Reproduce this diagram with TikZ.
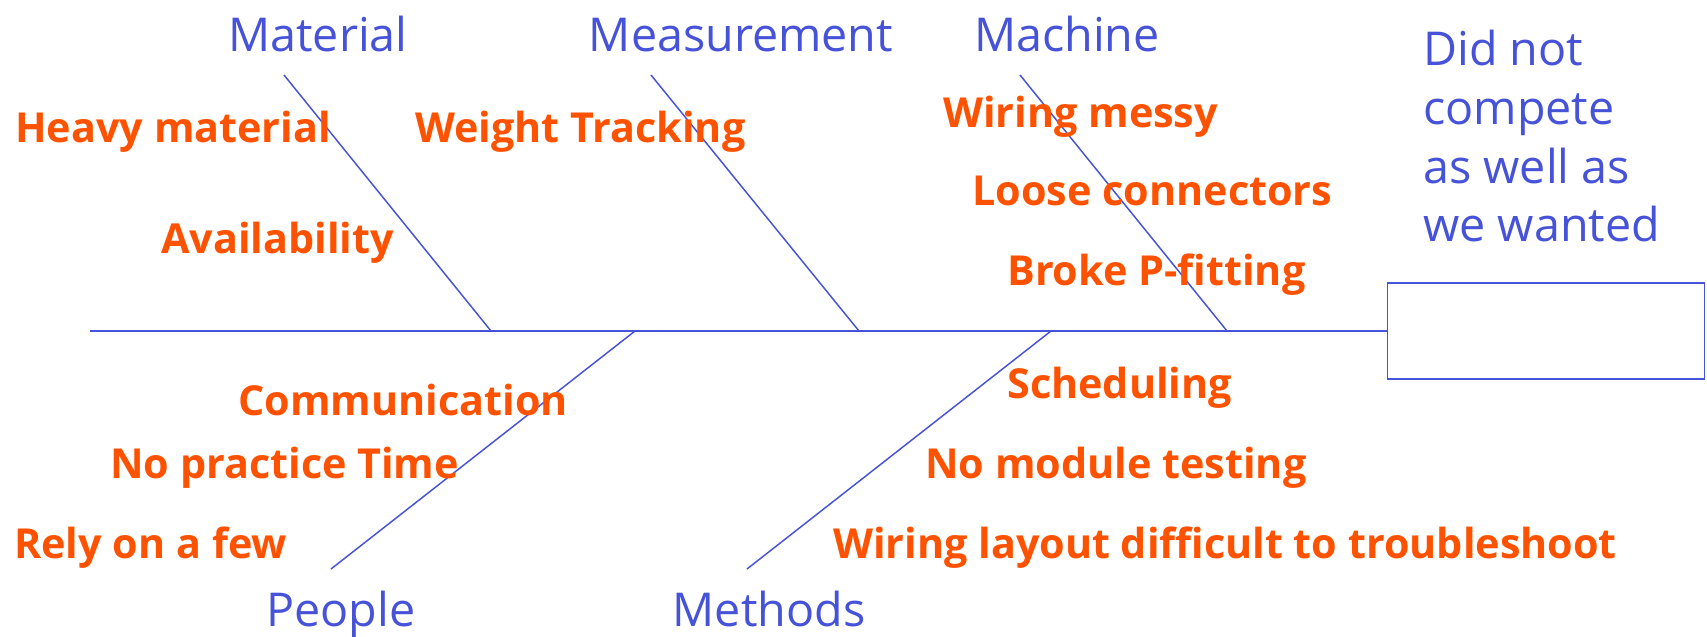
\documentclass[tikz,border=0pt]{standalone}
\usepackage{fontspec}
\setmainfont{Open Sans}
\definecolor{fbblue}{RGB}{70,82,215}
\definecolor{fborange}{RGB}{255,82,0}
\begin{document}
\begin{tikzpicture}[x=0.75pt,y=-0.75pt,
  bone/.style={draw=fbblue,line width=1.1pt},
  cat/.style={text=fbblue,font=\fontsize{35}{43.7}\selectfont,inner sep=0pt,anchor=base},
  cause/.style={text=fborange,font=\bfseries\fontsize{31}{38}\selectfont,inner sep=0pt,anchor=base west},
]
\useasboundingbox (0,0) rectangle (1707,636);
% effect box
\node[draw=fbblue,line width=1.1pt,minimum width=238pt,minimum height=72pt,inner sep=0pt] (effect) at (1546,331) {};
\node[text=fbblue,font=\fontsize{35}{44}\selectfont,inner sep=0pt,anchor=north west,align=left] (efftext) at (1423,30) {Did not\\compete\\as well as\\we wanted};
% spine
\coordinate (tail) at (90,331);
\draw[bone] (tail) -- (effect.west);
% bone coordinates
\coordinate (matT) at (284,75);   \coordinate (matB) at (491,331);
\coordinate (meaT) at (651,75);   \coordinate (meaB) at (859,331);
\coordinate (macT) at (1020,75);  \coordinate (macB) at (1227,331);
\coordinate (peoB) at (331,569);  \coordinate (peoT) at (635,331);
\coordinate (metB) at (747,569);  \coordinate (metT) at (1051,331);
\draw[bone] (matT) -- (matB);
\draw[bone] (meaT) -- (meaB);
\draw[bone] (macT) -- (macB);
\draw[bone] (peoB) -- (peoT);
\draw[bone] (metB) -- (metT);
% categories
\node[cat] (material) at (318,51) {Material};
\node[cat] (measurement) at (741,51) {Measurement};
\node[cat] (machine) at (1067,51) {Machine};
\node[cat] (people) at (341,626) {People};
\node[cat] (methods) at (769,626) {Methods};
% causes
\node[cause] (c1) at (15,142) {Heavy material};
\node[cause] (c2) at (161,253) {Availability};
\node[cause] (c3) at (415,142) {Weight Tracking};
\node[cause] (c4) at (943,127) {Wiring messy};
\node[cause] (c5) at (972,205) {Loose connectors};
\node[cause] (c6) at (1007,285) {Broke P-fitting};
\node[cause] (c7) at (238,415) {Communication};
\node[cause] (c8) at (110,478) {No practice Time};
\node[cause] (c9) at (14,558) {Rely on a few};
\node[cause] (c10) at (1007,398) {Scheduling};
\node[cause] (c11) at (925,478) {No module testing};
\node[cause] (c12) at (833,558) {Wiring layout difficult to troubleshoot};
\end{tikzpicture}
\end{document}
